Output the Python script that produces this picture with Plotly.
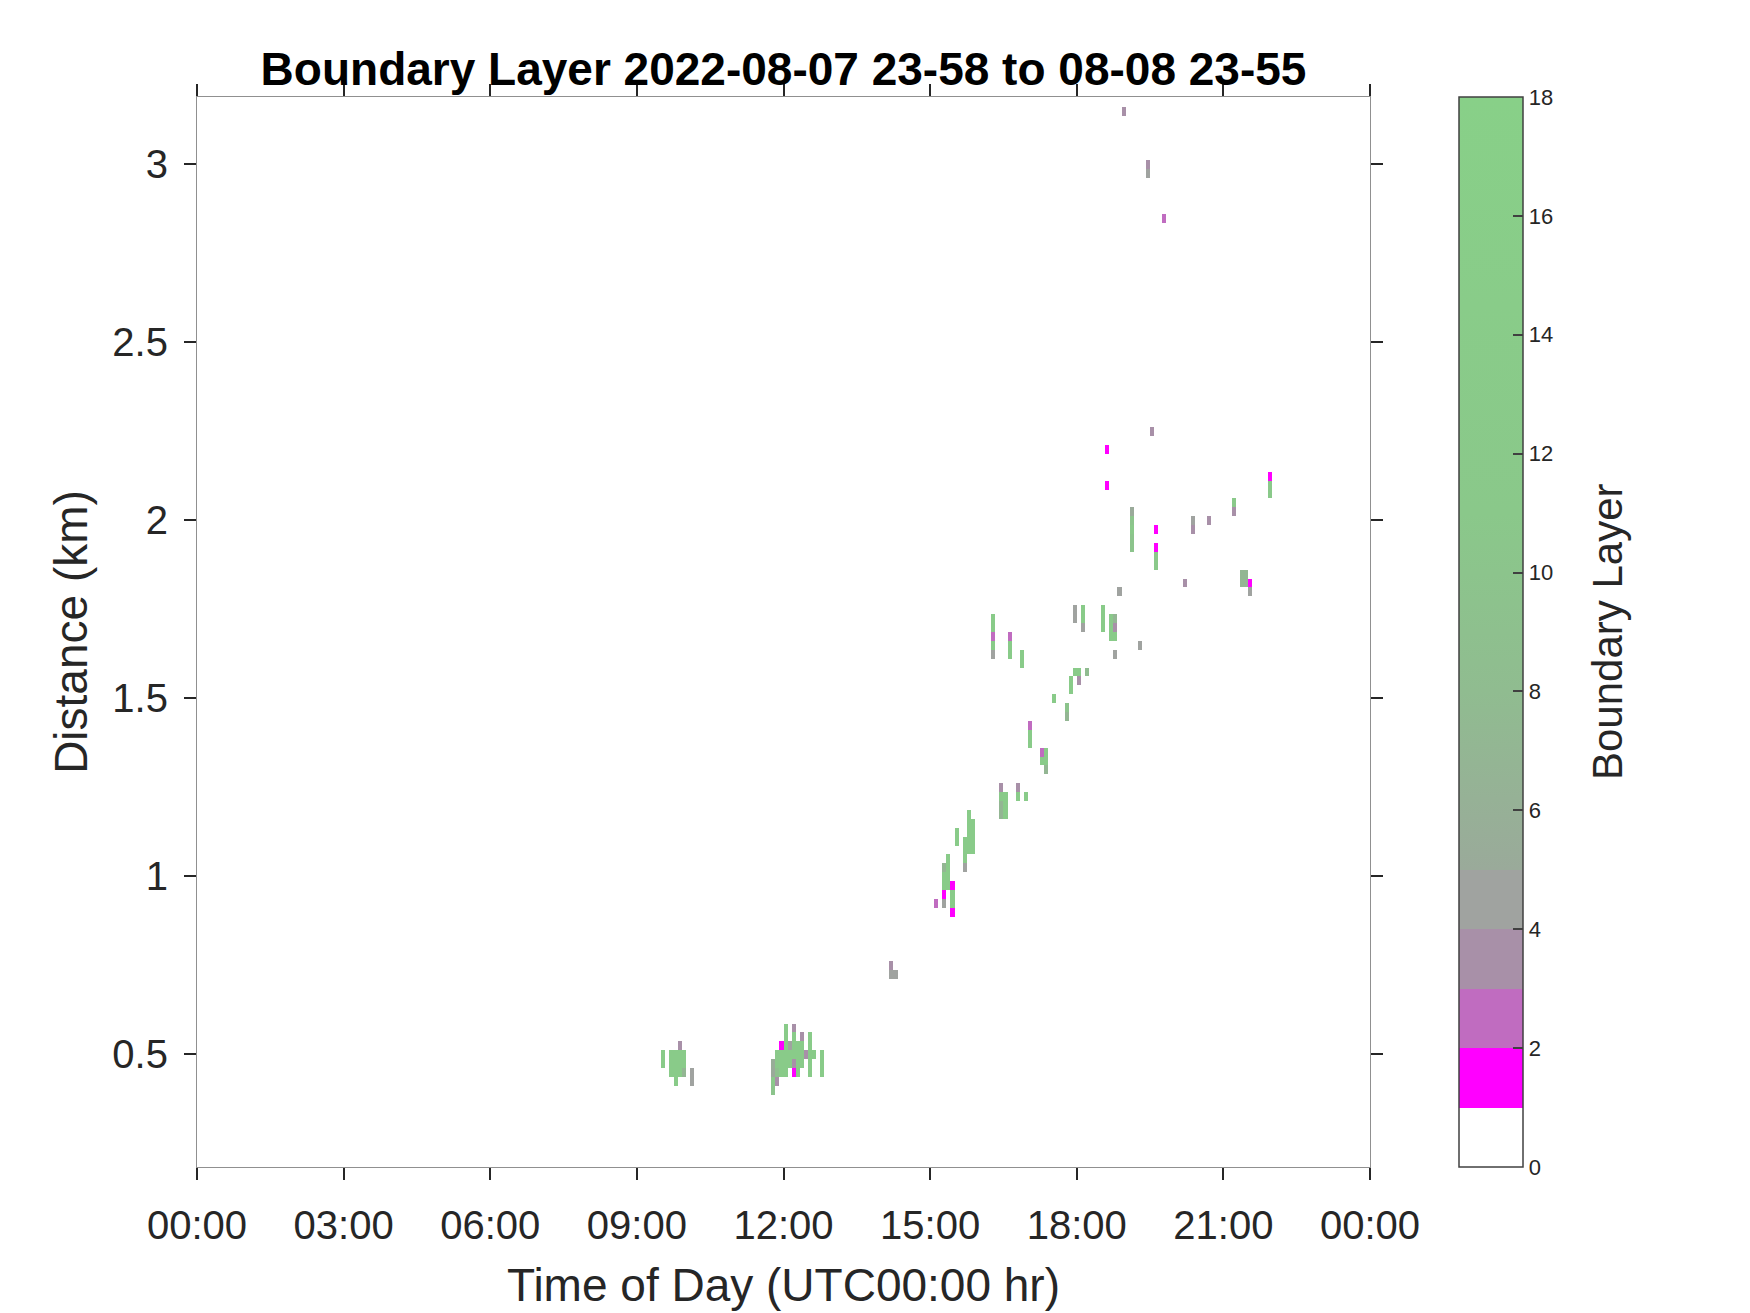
import plotly.graph_objects as go

# ---------------- data ----------------
# Each run: a column of stacked cells at one 5-minute time bin.
# run_start_min : start of the time bin (minutes after 00:00 UTC)
# run_base_km   : bottom of the lowest cell (km)
# run_values    : boundary-layer values of the stacked cells, bottom to top
run_start_min = [
    570, 580, 585, 590, 595, 605,
    705, 710, 715, 720, 725, 730, 735, 740, 745, 750, 755, 765,
    850, 855,
    905, 915, 920, 925, 930, 940, 945, 950,
    975, 985, 990, 995, 1005, 1010, 1015, 1020, 1035, 1040, 1050,
    1065, 1070, 1075, 1080, 1090, 1075, 1085, 1110, 1120, 1125, 1125,
    1130, 1155,
    1135, 1165, 1185, 1170, 1115, 1115, 1145, 1175, 1175,
    1220, 1240, 1270, 1280, 1285, 1290, 1210, 1315,
]
run_base_km = [
    0.46, 0.435, 0.41, 0.435, 0.435, 0.41,
    0.385, 0.41, 0.435, 0.435, 0.46, 0.435, 0.435, 0.46, 0.485, 0.435, 0.485, 0.435,
    0.71, 0.71,
    0.91, 0.91, 0.96, 0.885, 1.085, 1.01, 1.06, 1.06,
    1.61, 1.16, 1.16, 1.61, 1.21, 1.585, 1.21, 1.36, 1.31, 1.285, 1.485,
    1.435, 1.51, 1.56, 1.535, 1.56, 1.71, 1.685, 1.685, 1.66, 1.61, 1.66,
    1.785, 1.635,
    3.135, 2.96, 2.835, 2.235, 2.185, 2.085, 1.91, 1.86, 1.96,
    1.96, 1.985, 2.01, 1.81, 1.81, 1.785, 1.81, 2.06,
]
run_values = [
    [14, 14], [14, 14, 14], [14, 14, 14, 14], [14, 14, 14, 3.5], [7, 14, 14], [4.5, 4.5],
    [10, 12, 5, 5.5], [3.5, 9, 12, 12], [14, 14, 14, 1.5], [14, 14, 14, 14, 14, 14],
    [14, 14, 4.5], [1.5, 3.5, 14, 14, 14, 3.5], [14, 14, 14, 14], [14, 14, 14, 3.5],
    [3.5], [14, 14, 14, 14, 14], [14], [14, 14, 14],
    [4.5, 3.5], [4.5],
    [2.8], [4.5, 1.5, 14, 14, 7], [14, 14, 14, 14], [1.5, 14, 14, 1.5], [14, 14],
    [4.5, 14, 14, 14], [14, 14, 14, 14, 14], [14, 14, 14, 14],
    [4.5, 14, 2.5, 14, 14], [7, 7, 12, 3.8], [14, 14, 14], [14, 14, 2.5], [14, 3.5],
    [14, 14], [14], [14, 14, 2.5], [14, 2.5], [7, 14, 14], [14],
    [7, 10], [14, 14], [14], [3.5, 14], [8], [4.5, 4.5], [4.5, 14, 14], [14, 14, 14],
    [14, 14, 12], [4.5], [14, 3.5, 7],
    [4.5], [4.5],
    [3.8], [4.5, 3.5], [2.8], [3], [1.5], [1.5], [10, 10, 12, 10, 5], [12, 12, 1.5], [1.5],
    [3.8, 4.5], [3], [3, 12], [7, 7], [7, 7], [4.5, 1.5], [3], [12, 12, 1.5],
]

time_tick_hr = [0, 3, 6, 9, 12, 15, 18, 21, 24]
time_tick_text = ["00:00", "03:00", "06:00", "09:00", "12:00", "15:00", "18:00", "21:00", "00:00"]
dist_tick_km = [0.5, 1, 1.5, 2, 2.5, 3]
dist_tick_text = ["0.5", "1", "1.5", "2", "2.5", "3"]
cbar_ticks = [0, 2, 4, 6, 8, 10, 12, 14, 16, 18]

# ---------------- grid ----------------
BIN_MIN = 5
DY = 0.025
Y0 = 0.01
n_t = 24 * 60 // BIN_MIN
n_y = 128
x_centers = [(i * BIN_MIN + BIN_MIN / 2) / 60 for i in range(n_t)]
y_centers = [Y0 + DY * (j + 0.5) for j in range(n_y)]
z = [[None] * n_t for _ in range(n_y)]
for t, b, vals in zip(run_start_min, run_base_km, run_values):
    i = int(round(t / BIN_MIN))
    j0 = int(round((b - Y0) / DY))
    for k, v in enumerate(vals):
        z[j0 + k][i] = v

colorscale = [
    [0 / 18, "#FFFFFF"], [1 / 18, "#FFFFFF"],
    [1 / 18, "#FF00FF"], [2 / 18, "#FF00FF"],
    [2 / 18, "#C06CC0"], [3 / 18, "#C06CC0"],
    [3 / 18, "#A890A8"], [4 / 18, "#A890A8"],
    [4 / 18, "#A0A3A0"], [5 / 18, "#A0A3A0"],
    [5 / 18, "#9AAA9A"], [8 / 18, "#90BC90"],
    [11 / 18, "#8AC88A"], [18 / 18, "#88D088"],
]

FONT = "Liberation Sans, Arial, Helvetica, sans-serif"
TXT = "#262626"

# page offset of the figure inside the browser (body margin) = 8 px
W, H = 1742, 1305
L, T, R, B = 189, 89, 1362, 1161
PW = R - L

fig = go.Figure(go.Heatmap(
    x=x_centers, y=y_centers, z=z,
    zmin=0, zmax=18, colorscale=colorscale, zsmooth=False,
    hoverongaps=False,
    colorbar=dict(
        x=(1451 - L) / PW, xanchor="left", xpad=0,
        y=0.5, yanchor="middle", len=1.0, lenmode="fraction", ypad=0,
        thickness=64, thicknessmode="pixels",
        outlinecolor="#404040", outlinewidth=1.5,
        tickvals=cbar_ticks, ticks="inside", ticklen=10, tickwidth=1.5,
        tickcolor="#404040",
        tickfont=dict(family=FONT, size=22, color=TXT),
    ),
))

fig.add_annotation(
    text="Boundary Layer", textangle=-90,
    x=(1599 - L) / PW, xref="paper", xanchor="center",
    y=0.5, yref="paper", yanchor="middle",
    showarrow=False, font=dict(family=FONT, size=42, color=TXT),
)

fig.update_layout(
    width=W, height=H,
    margin=dict(l=L, r=W - R, t=T, b=H - B),
    paper_bgcolor="white", plot_bgcolor="white",
    title=dict(text="<b>Boundary Layer 2022-08-07 23-58 to 08-08 23-55</b>",
               x=0.5, xanchor="center", xref="paper",
               y=1 - 61 / H, yanchor="middle", yref="container",
               font=dict(family=FONT, size=46, color="black")),
    showlegend=False,
)

fig.update_xaxes(
    range=[0, 24], tickvals=time_tick_hr, ticktext=time_tick_text,
    ticks="outside", ticklen=12, tickwidth=2, tickcolor="#262626",
    ticklabelstandoff=11,
    showline=True, linecolor="#909090", linewidth=1.2, mirror="ticks",
    showgrid=False, zeroline=False,
    tickfont=dict(family=FONT, size=40, color=TXT),
    title=dict(text="Time of Day (UTC00:00 hr)", standoff=22,
               font=dict(family=FONT, size=46, color=TXT)),
)
fig.update_yaxes(
    range=[0.183, 3.188], tickvals=dist_tick_km, ticktext=dist_tick_text,
    ticks="outside", ticklen=12, tickwidth=2, tickcolor="#262626",
    ticklabelstandoff=8,
    showline=True, linecolor="#909090", linewidth=1.2, mirror="ticks",
    showgrid=False, zeroline=False,
    tickfont=dict(family=FONT, size=40, color=TXT),
    title=dict(text="Distance (km)", standoff=10,
               font=dict(family=FONT, size=46, color=TXT)),
)

fig.write_html("out.html")
